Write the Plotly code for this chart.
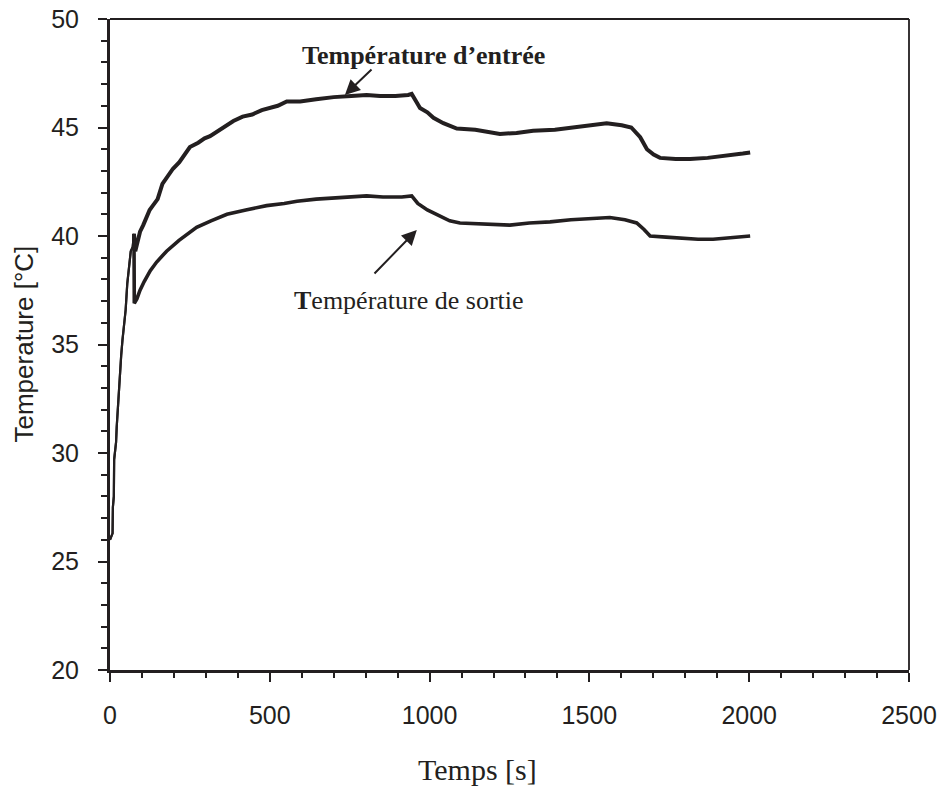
import plotly.graph_objects as go

# ---- data ----
t_entree = [0, 8, 9, 12, 13, 19, 21, 26, 29, 35, 39, 45, 49, 54, 59, 65, 71, 75, 79, 84,
            94, 104, 117, 124, 134, 143, 149, 164, 178, 197, 217, 237, 250, 276, 296, 313,
            346, 386, 415, 445, 475, 501, 525, 553, 595, 645, 700, 755, 803, 845, 893, 933,
            944, 958, 970, 993, 1012, 1043, 1085, 1143, 1193, 1220, 1272, 1324, 1392, 1442,
            1512, 1554, 1601, 1631, 1659, 1680, 1701, 1721, 1770, 1815, 1870, 1940, 1980, 2003]
T_entree = [26.0, 26.3, 27.5, 28.0, 29.7, 30.5, 31.2, 32.5, 33.5, 34.5, 35.2, 36.0, 36.6, 37.8,
            38.6, 39.3, 39.5, 40.1, 39.3, 39.6, 40.2, 40.5, 40.9, 41.2, 41.4, 41.6, 41.7, 42.4,
            42.7, 43.1, 43.4, 43.8, 44.1, 44.3, 44.5, 44.6, 44.9, 45.3, 45.5, 45.6, 45.8, 45.9,
            46.0, 46.2, 46.2, 46.3, 46.4, 46.45, 46.5, 46.45, 46.45, 46.5, 46.55, 46.2, 45.9,
            45.7, 45.45, 45.2, 44.95, 44.9, 44.75, 44.7, 44.75, 44.85, 44.9, 45.0, 45.15, 45.2,
            45.1, 45.0, 44.55, 44.0, 43.75, 43.6, 43.55, 43.55, 43.6, 43.7, 43.8, 43.85]

t_sortie = [0, 8, 9, 12, 13, 19, 21, 26, 29, 35, 39, 45, 49, 54, 59, 65, 71, 75, 76, 84, 94,
            107, 126, 146, 177, 216, 271, 316, 366, 425, 490, 545, 585, 645, 695, 755, 803,
            854, 913, 944, 963, 993, 1033, 1063, 1095, 1172, 1251, 1312, 1377, 1442, 1511,
            1564, 1611, 1648, 1671, 1690, 1740, 1793, 1840, 1887, 1940, 2003]
T_sortie = [26.0, 26.3, 27.5, 28.0, 29.7, 30.5, 31.2, 32.5, 33.5, 34.5, 35.2, 36.0, 36.6, 37.8,
            38.6, 39.3, 39.5, 40.1, 36.9, 37.1, 37.5, 37.9, 38.4, 38.8, 39.3, 39.8, 40.4, 40.7,
            41.0, 41.2, 41.4, 41.5, 41.6, 41.7, 41.75, 41.8, 41.85, 41.8, 41.8, 41.85, 41.5,
            41.2, 40.9, 40.7, 40.6, 40.55, 40.5, 40.6, 40.65, 40.75, 40.8, 40.85, 40.75, 40.6,
            40.3, 40.0, 39.95, 39.9, 39.85, 39.85, 39.9, 40.0]

x_ticks = [0, 500, 1000, 1500, 2000, 2500]
y_ticks = [20, 25, 30, 35, 40, 45, 50]

label_entree = "<b>Température d’entrée</b>"
label_sortie = "<b>T</b>empérature de sortie"
x_title = "Temps [s]"
y_title = "Temperature [°C]"

INK = "#231f20"
SPLIT = 18  # index where the thin start-up segment ends

# plot-area geometry (pixels)
L, R, T, B = 110, 909, 19, 670
W, H = 943, 787

fig = go.Figure()
for tx, ty, in [(t_entree, T_entree), (t_sortie, T_sortie)]:
    fig.add_trace(go.Scatter(x=tx[:SPLIT], y=ty[:SPLIT], mode="lines",
                             line=dict(color=INK, width=2.2), showlegend=False))
for tx, ty, w in [(t_entree, T_entree, 4), (t_sortie, T_sortie, 3.6)]:
    fig.add_trace(go.Scatter(x=tx[SPLIT - 1:], y=ty[SPLIT - 1:], mode="lines",
                             line=dict(color=INK, width=w), showlegend=False))

# annotations with arrows
fig.add_annotation(x=735, y=46.5, ax=823, ay=47.74, xref="x", yref="y", axref="x", ayref="y",
                   text="", showarrow=True, arrowhead=2, arrowsize=1.5, arrowwidth=2,
                   arrowcolor=INK)
fig.add_annotation(x=982, y=48.34, xref="x", yref="y", text=label_entree, showarrow=False,
                   font=dict(family="Liberation Serif", size=26, color=INK))
fig.add_annotation(x=960, y=40.28, ax=823, ay=38.2, xref="x", yref="y", axref="x", ayref="y",
                   text="", showarrow=True, arrowhead=2, arrowsize=1.5, arrowwidth=2,
                   arrowcolor=INK)
fig.add_annotation(x=935, y=37.05, xref="x", yref="y", text=label_sortie, showarrow=False,
                   font=dict(family="Liberation Serif", size=26, color=INK))

# axis titles as paper annotations
fig.add_annotation(x=(477 - L) / (R - L), y=-(769 - B) / (B - T), xref="paper", yref="paper",
                   text=x_title, showarrow=False, xanchor="center", yanchor="middle",
                   font=dict(family="Liberation Serif", size=30, color=INK))
fig.add_annotation(x=(23 - L) / (R - L), y=0.5, xref="paper", yref="paper",
                   text=y_title, showarrow=False, textangle=-90, xanchor="center",
                   yanchor="middle",
                   font=dict(family="Liberation Sans", size=26, color=INK))

# thinner top / right frame lines
fig.add_shape(type="line", xref="paper", yref="paper", x0=0, x1=1, y0=1, y1=1,
              line=dict(color=INK, width=2))
fig.add_shape(type="line", xref="paper", yref="paper", x0=1, x1=1, y0=0, y1=1,
              line=dict(color=INK, width=1.8))

fig.update_layout(
    width=W, height=H,
    margin=dict(l=L, r=W - R, t=T, b=H - B, autoexpand=False),
    paper_bgcolor="white", plot_bgcolor="white",
    font=dict(family="Liberation Sans", size=25, color=INK),
)

fig.update_xaxes(range=[0, 2500], tickvals=x_ticks, ticktext=[str(v) for v in x_ticks],
                 showgrid=False, zeroline=False, showline=True, linecolor=INK, linewidth=3,
                 ticks="outside", ticklen=9, tickwidth=2, tickcolor=INK,
                 ticklabelstandoff=12, automargin=False,
                 minor=dict(dtick=100, ticks="outside", ticklen=5, tickwidth=2, tickcolor=INK,
                            showgrid=False),
                 tickfont=dict(family="Liberation Sans", size=25, color=INK))
fig.update_yaxes(range=[20, 50], tickvals=y_ticks, ticktext=[str(v) for v in y_ticks],
                 showgrid=False, zeroline=False, showline=True, linecolor=INK, linewidth=3,
                 ticks="outside", ticklen=9, tickwidth=2, tickcolor=INK,
                 ticklabelstandoff=14, automargin=False,
                 minor=dict(dtick=1, ticks="outside", ticklen=6, tickwidth=2, tickcolor=INK,
                            showgrid=False),
                 tickfont=dict(family="Liberation Sans", size=25, color=INK))

fig.write_html("out.html", config={"displayModeBar": False},
               post_script="document.body.style.margin='0';document.body.style.overflow='hidden';")
